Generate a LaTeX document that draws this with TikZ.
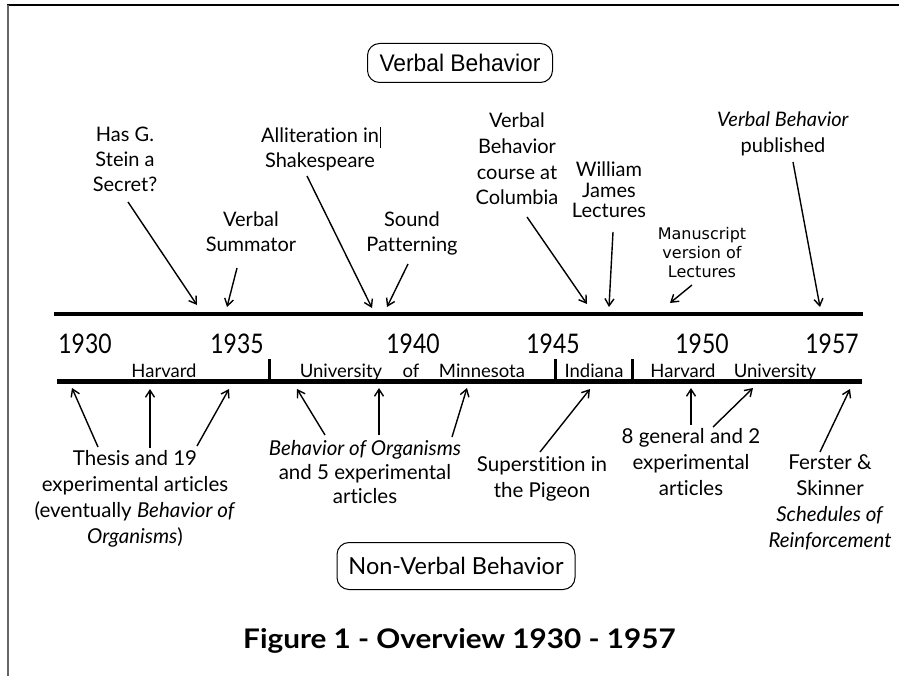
\documentclass[tikz,border=0pt]{standalone}
\usepackage{fontspec}
\setmainfont{Lato}[Ligatures=NoCommon]
\newfontfamily\arialf{Liberation Sans}
\newfontfamily\verdf{DejaVu Sans}
\usetikzlibrary{arrows.meta}
\begin{document}
\begin{tikzpicture}[x=1pt,y=-1pt,
  lbl/.style={align=center,inner sep=0pt,anchor=base,font=\fontsize{20}{25}\selectfont},
  yr/.style={inner sep=0pt,anchor=base,font=\fontsize{27}{30}\selectfont,xscale=0.85},
  uni/.style={inner sep=0pt,anchor=base,font=\fontsize{18.5}{20}\selectfont},
  arr/.style={line width=1.4pt,-{Straight Barb[length=7pt,width=9pt,line width=1.4pt]}},
  tl/.style={line width=4pt},
  tick/.style={line width=3pt},
  pill/.style={draw,line width=1pt,rounded corners=12pt,inner sep=0pt}
]
\useasboundingbox (0,0) rectangle (899,676);
% frame
\draw[line width=1.5pt] (7,5) -- (899,5);
\draw[line width=2pt,black!60] (8,5) -- (8,676);

% boxes
\node[pill,minimum width=185pt,minimum height=39pt,font=\arialf\fontsize{24}{26}\selectfont] (vb) at (460,63) {\scalebox{0.95}[1]{Verbal Behavior}};
\node[pill,minimum width=238pt,minimum height=47pt,font=\fontsize{23.5}{26}\selectfont] (nvb) at (456,566) {Non-Verbal Behavior};

% timelines
\draw[tl] (54,314) -- (863,314);
\draw[line width=5pt] (57,381) -- (862,381);
\draw[tick] (269,359) -- (269,381);
\draw[tick] (555,359) -- (555,381);
\draw[tick] (632,359) -- (632,381);

% years
\node[yr] (y30) at (85,353) {1930};
\node[yr] (y35) at (237,353) {1935};
\node[yr] (y40) at (413,353) {1940};
\node[yr] (y45) at (553,353) {1945};
\node[yr] (y50) at (702,353) {1950};
\node[yr] (y57) at (832,353) {1957};

% institutions
\node[uni] (h1) at (164,377) {Harvard};
\node[uni] (u1) at (341,377) {University};
\node[uni] (of) at (411,377) {of};
\node[uni] (mn) at (482,377) {Minnesota};
\node[uni] (in) at (594,377) {Indiana};
\node[uni] (h2) at (683,377) {Harvard};
\node[uni] (u2) at (775,377) {University};

% top labels (anchor = baseline of last line)
\node[lbl] (stein) at (125,192) {Has G.\\Stein a\\Secret?};
\node[lbl] (summ) at (251,252) {Verbal\\Summator};
\node[lbl] (allit) at (320,168) {Alliteration in\rlap{\kern1pt\rule[-0.25em]{0.8pt}{1.05em}}\\Shakespeare};
\node[lbl] (sound) at (412,252) {Sound\\Patterning};
\node[lbl,font=\fontsize{20}{25.7}\selectfont] (colum) at (517,205) {Verbal\\Behavior\\course at\\Columbia};
\node[lbl,font=\fontsize{20}{20.5}\selectfont] (wjl) at (609,218) {William\\James\\Lectures};
\node[lbl,font=\verdf\fontsize{16}{18.5}\selectfont] (manu) at (702,277) {Manuscript\\version of\\Lectures};
\node[lbl,font=\fontsize{20}{26}\selectfont] (publ) at (783,153) {\textit{Verbal Behavior}\\published};

\coordinate (s1) at (128,202); \coordinate (e1) at (197,305);
\coordinate (s2) at (237,268); \coordinate (e2) at (227,307);
\coordinate (s3) at (307,176); \coordinate (e3) at (372,308);
\coordinate (s4) at (408,264); \coordinate (e4) at (387,307);
\coordinate (s5) at (527,217); \coordinate (e5) at (587,304);
\coordinate (s6) at (613,232); \coordinate (e6) at (609,307);
\coordinate (s7) at (692,285); \coordinate (e7) at (670,303);
\coordinate (s8) at (793,162); \coordinate (e8) at (820,307);
\draw[arr] (s1) -- (e1);
\draw[arr] (s2) -- (e2);
\draw[arr] (s3) -- (e3);
\draw[arr] (s4) -- (e4);
\draw[arr] (s5) -- (e5);
\draw[arr] (s6) -- (e6);
\draw[arr] (s7) -- (e7);
\draw[arr] (s8) -- (e8);

% bottom labels (anchor = baseline of last line)
\node[lbl,font=\fontsize{20.5}{26}\selectfont] (thesis) at (135,543) {Thesis and 19\\experimental articles\\(eventually \textit{Behavior of}\\\textit{Organisms})};
\node[lbl,font=\fontsize{20.5}{24}\selectfont] (boo) at (365,503) {\textit{Behavior of Organisms}\\and 5 experimental\\articles};
\node[lbl,font=\fontsize{20.5}{26}\selectfont] (sup) at (542,497) {Superstition in\\the Pigeon};
\node[lbl,font=\fontsize{20.5}{26}\selectfont] (gen) at (691,495) {8 general and 2\\experimental\\articles};
\node[lbl,font=\fontsize{20.5}{25.7}\selectfont] (fers) at (830,547) {Ferster \&\\Skinner\\\textit{Schedules of}\\\textit{Reinforcement}};

\coordinate (b1s) at (98,447);  \coordinate (b1e) at (72,388);
\coordinate (b2s) at (150,448); \coordinate (b2e) at (150,389);
\coordinate (b3s) at (197,446); \coordinate (b3e) at (229,389);
\coordinate (b4s) at (325,435); \coordinate (b4e) at (297,389);
\coordinate (b5s) at (379,435); \coordinate (b5e) at (379,388);
\coordinate (b6s) at (452,437); \coordinate (b6e) at (467,388);
\coordinate (b7s) at (540,452); \coordinate (b7e) at (590,389);
\coordinate (b8s) at (691,425); \coordinate (b8e) at (691,388);
\coordinate (b9s) at (713,427); \coordinate (b9e) at (753,388);
\coordinate (b10s) at (820,452); \coordinate (b10e) at (850,389);
\draw[arr] (b1s) -- (b1e);
\draw[arr] (b2s) -- (b2e);
\draw[arr] (b3s) -- (b3e);
\draw[arr] (b4s) -- (b4e);
\draw[arr] (b5s) -- (b5e);
\draw[arr] (b6s) -- (b6e);
\draw[arr] (b7s) -- (b7e);
\draw[arr] (b8s) -- (b8e);
\draw[arr] (b9s) -- (b9e);
\draw[arr] (b10s) -- (b10e);

% caption
\node[inner sep=0pt,anchor=base west,font=\bfseries\fontsize{27}{30}\selectfont,xscale=1.1] (cap) at (243,648) {Figure 1 - Overview 1930 - 1957};
\end{tikzpicture}
\end{document}
